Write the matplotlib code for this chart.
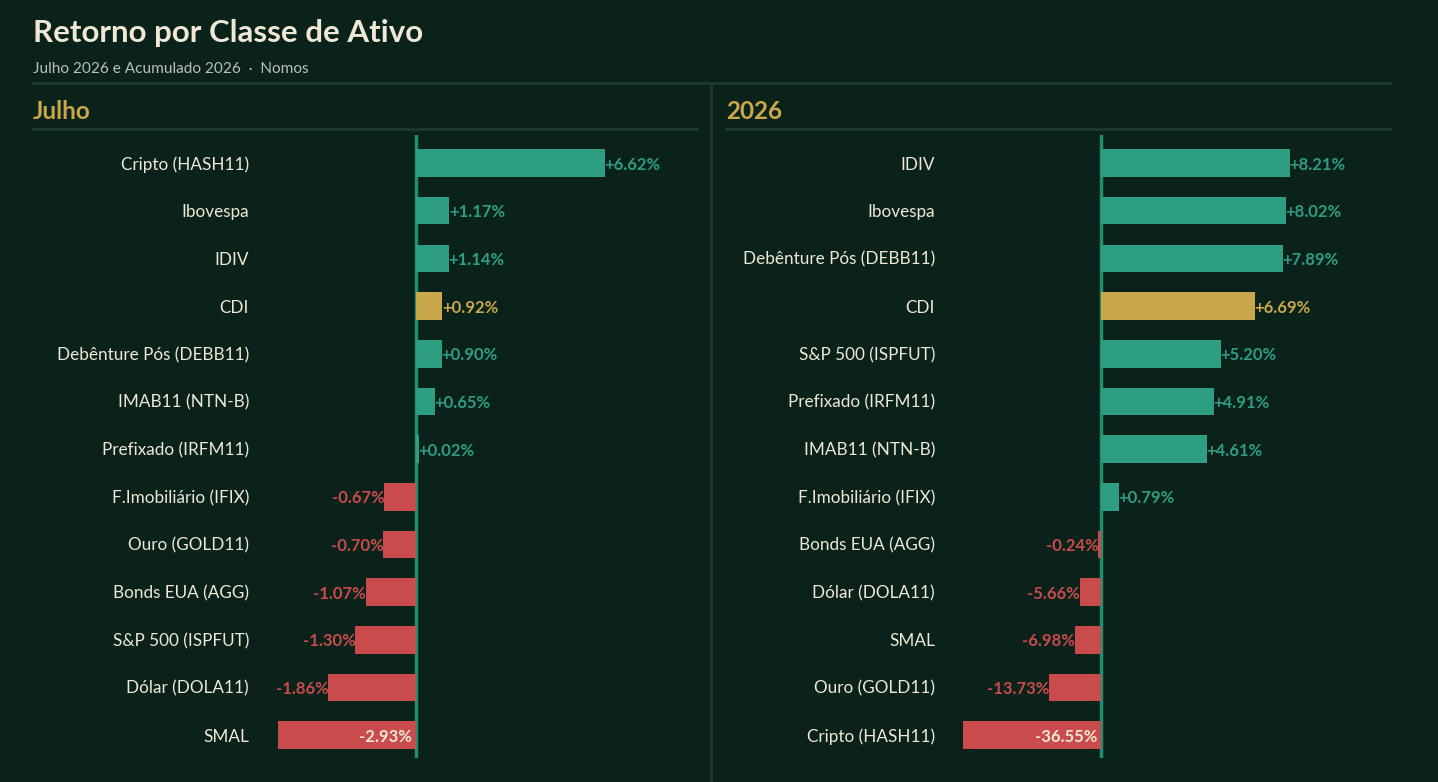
import numpy as np
import matplotlib
matplotlib.use("Agg")
import matplotlib.pyplot as plt
from matplotlib.lines import Line2D

# data
jul_labels = ["Cripto (HASH11)", "Ibovespa", "IDIV", "CDI", "Debênture Pós (DEBB11)",
              "IMAB11 (NTN-B)", "Prefixado (IRFM11)", "F.Imobiliário (IFIX)", "Ouro (GOLD11)",
              "Bonds EUA (AGG)", "S&P 500 (ISPFUT)", "Dólar (DOLA11)", "SMAL"]
jul_values = [6.62, 1.17, 1.14, 0.92, 0.90, 0.65, 0.02, -0.67, -0.70, -1.07, -1.30, -1.86, -2.93]

ytd_labels = ["IDIV", "Ibovespa", "Debênture Pós (DEBB11)", "CDI", "S&P 500 (ISPFUT)",
              "Prefixado (IRFM11)", "IMAB11 (NTN-B)", "F.Imobiliário (IFIX)", "Bonds EUA (AGG)",
              "Dólar (DOLA11)", "SMAL", "Ouro (GOLD11)", "Cripto (HASH11)"]
ytd_values = [8.21, 8.02, 7.89, 6.69, 5.20, 4.91, 4.61, 0.79, -0.24, -5.66, -6.98, -13.73, -36.55]

highlight = "CDI"

BG = "#0b221b"
CREAM = "#eee8d4"
SUB = "#b9c0b6"
GOLD = "#c9a84c"
GREEN = "#2e9e82"
RED = "#c94b4b"
LINE = "#1c3a30"
ZERO = "#1f8f72"

W, H = 1438, 782
plt.rcParams['font.family'] = ['Lato', 'DejaVu Sans']

fig = plt.figure(figsize=(W / 100, H / 100), dpi=100)
fig.patch.set_facecolor(BG)


def fx(x):
    return x / W


def fy(y):
    return 1 - y / H


def hline(x0, x1, y, color=LINE, lw=2):
    fig.add_artist(Line2D([fx(x0), fx(x1)], [fy(y), fy(y)], color=color, lw=lw,
                          transform=fig.transFigure))


fig.text(fx(33), fy(42), "Retorno por Classe de Ativo", color=CREAM, fontsize=22.5,
         fontweight="bold", va="baseline")
fig.text(fx(33), fy(73), "Julho 2026 e Acumulado 2026  ·  Nomos", color=SUB, fontsize=11.1,
         va="baseline")
hline(33, 1390, 83)
fig.add_artist(Line2D([fx(711), fx(711)], [fy(85), 0], color=LINE, lw=2,
                      transform=fig.transFigure))


def panel(x0, x1, zero_x, label_x, title, labels, values):
    fig.text(fx(x0), fy(119), title, color=GOLD, fontsize=17.5, fontweight="bold",
             va="baseline")
    hline(x0, x1, 129)

    top, bot = 135, 758
    row0, step = 163, 47.67
    ax = fig.add_axes([fx(x0), fy(bot), fx(x1 - x0), (bot - top) / H])
    ax.set_facecolor("none")
    ax.set_xlim(x0 - zero_x, x1 - zero_x)
    ax.set_ylim((bot - row0) / step, (top - row0) / step)
    ax.axis("off")

    vals = np.array(values)
    pos_max = vals[vals > 0].max()
    neg_max = -vals[vals < 0].min()
    # each side scaled to its own extreme, with a small minimum so tiny bars show
    widths = np.where(vals >= 0, vals / pos_max * 189, vals / neg_max * 138)
    widths = np.sign(widths) * np.maximum(np.abs(widths), 3)
    y = np.arange(len(vals))
    colors = [GOLD if l == highlight else (GREEN if v >= 0 else RED)
              for l, v in zip(labels, vals)]
    ax.axvline(0, color=ZERO, lw=2.5, zorder=1)
    ax.barh(y, widths, height=0.58, color=colors, zorder=2)

    for i, (l, v, w, c) in enumerate(zip(labels, vals, widths, colors)):
        ax.text(label_x - zero_x, i, l, color=CREAM, fontsize=12.3, ha="right",
                va="center_baseline")
        txt = f"{v:+.2f}%"
        if v >= 0:
            ax.text(w - 0.5, i, txt, color=c, fontsize=12, fontweight="bold", ha="left",
                    va="center_baseline")
        elif -w > 120:
            ax.text(-4, i, txt, color=CREAM, fontsize=12, fontweight="bold", ha="right",
                    va="center_baseline")
        else:
            ax.text(w + 0.5, i, txt, color=c, fontsize=12, fontweight="bold", ha="right",
                    va="center_baseline")


panel(33, 697, 416, 249, "Julho", jul_labels, jul_values)
panel(726, 1390, 1101, 935, "2026", ytd_labels, ytd_values)

fig.savefig("out.png", dpi=100, facecolor=BG)
